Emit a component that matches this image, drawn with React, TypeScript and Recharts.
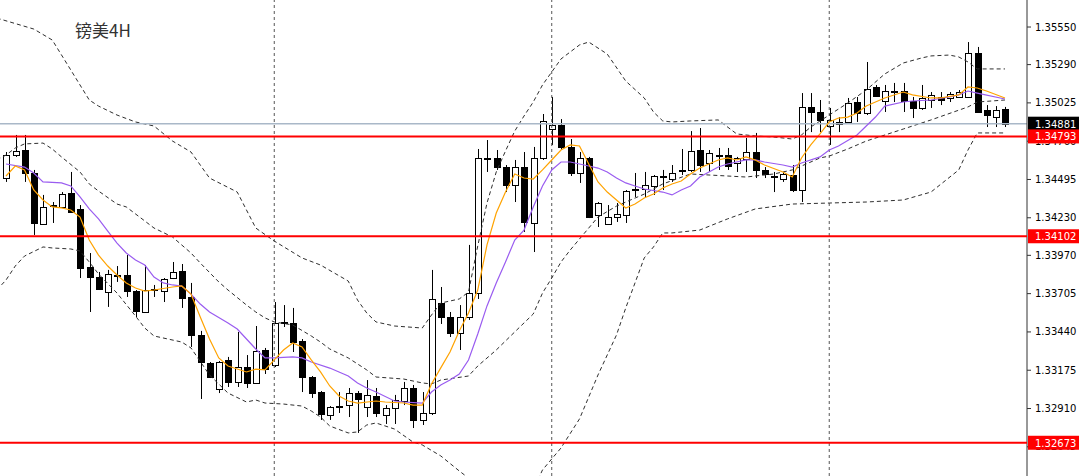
// GBPUSD 4H candles with Bollinger bands, two moving averages and marked price levels.
import React from "react";
import { ComposedChart, Bar, Line, XAxis, YAxis, ReferenceLine } from "recharts";

const OPEN = [
  1.34505, 1.34664, 1.34699, 1.3454, 1.34187, 1.34311, 1.34305, 1.34401, 1.34291, 1.33889,
  1.3382, 1.33716, 1.33834, 1.33834, 1.33723, 1.33578, 1.3373, 1.33723, 1.33813, 1.33862,
  1.33682, 1.33419, 1.33225, 1.33045, 1.33246, 1.33094, 1.33197, 1.33087, 1.33315, 1.33211,
  1.33509, 1.33502, 1.33377, 1.33128, 1.33024, 1.32865, 1.32927, 1.32934, 1.33017, 1.32921,
  1.32997, 1.32865, 1.32914, 1.32962, 1.33052, 1.32831, 1.32879, 1.3364, 1.33543, 1.33433,
  1.33543, 1.33709, 1.34644, 1.34644, 1.34581, 1.34457, 1.34581, 1.34194, 1.34644, 1.34844,
  1.34872, 1.3472, 1.3454, 1.34644, 1.34249, 1.34187, 1.34235, 1.34249, 1.34422, 1.34429,
  1.3445, 1.34512, 1.34498, 1.34554, 1.34561, 1.34699, 1.34609, 1.34657, 1.34664, 1.34609,
  1.34637, 1.34685, 1.34561, 1.34519, 1.34498, 1.34526, 1.34422, 1.34997, 1.34962, 1.34865,
  1.34893, 1.34893, 1.35031, 1.34955, 1.35135, 1.35038, 1.35107, 1.35107, 1.35038, 1.3499,
  1.35045, 1.35066, 1.35059, 1.35066, 1.35066, 1.3537, 1.34976, 1.34927, 1.34983,
];
const HIGH = [
  1.34685, 1.34803, 1.34803, 1.34561, 1.34388, 1.34339, 1.34408, 1.34547, 1.34318, 1.33986,
  1.33855, 1.33869, 1.33896, 1.33972, 1.3373, 1.33903, 1.33765, 1.33813, 1.33924, 1.3391,
  1.33779, 1.33447, 1.33232, 1.33239, 1.33267, 1.3344, 1.3328, 1.33481, 1.33329, 1.33647,
  1.33626, 1.33606, 1.33391, 1.33135, 1.33031, 1.32927, 1.33024, 1.33052, 1.33031, 1.33107,
  1.33052, 1.32934, 1.33004, 1.33094, 1.33073, 1.33024, 1.33869, 1.33751, 1.33578, 1.33626,
  1.34042, 1.34706, 1.34768, 1.34699, 1.34595, 1.3463, 1.34685, 1.3472, 1.34948, 1.35066,
  1.34913, 1.34775, 1.34685, 1.34651, 1.34339, 1.34318, 1.34332, 1.34422, 1.3454, 1.34547,
  1.34526, 1.34561, 1.34595, 1.34706, 1.3483, 1.34851, 1.34699, 1.34713, 1.34713, 1.34651,
  1.34782, 1.34817, 1.34581, 1.34547, 1.34547, 1.34595, 1.35093, 1.35093, 1.35045, 1.3499,
  1.34927, 1.35059, 1.35066, 1.35308, 1.35149, 1.35149, 1.35163, 1.35163, 1.35066, 1.35149,
  1.351, 1.351, 1.351, 1.35114, 1.35446, 1.35412, 1.3501, 1.35003, 1.34997,
];
const LOW = [
  1.34478, 1.34651, 1.34478, 1.34111, 1.3418, 1.34194, 1.34298, 1.34263, 1.33813, 1.33578,
  1.3373, 1.33613, 1.33786, 1.33682, 1.33543, 1.33571, 1.33682, 1.33647, 1.33806, 1.33606,
  1.33336, 1.32976, 1.33121, 1.33017, 1.33059, 1.33059, 1.33052, 1.3308, 1.33149, 1.33197,
  1.33474, 1.33301, 1.33024, 1.32983, 1.32831, 1.32831, 1.32879, 1.32851, 1.32741, 1.32851,
  1.32851, 1.32803, 1.32803, 1.32934, 1.32775, 1.32796, 1.32865, 1.33495, 1.33405, 1.33315,
  1.33523, 1.33668, 1.34547, 1.34561, 1.34408, 1.34339, 1.34132, 1.33993, 1.3463, 1.34734,
  1.34699, 1.34519, 1.34471, 1.34228, 1.34166, 1.3418, 1.34201, 1.34194, 1.34374, 1.34374,
  1.34388, 1.34422, 1.34478, 1.34526, 1.34547, 1.34547, 1.34547, 1.34561, 1.34561, 1.34547,
  1.34547, 1.34505, 1.34505, 1.34408, 1.34478, 1.34408, 1.34339, 1.34823, 1.34823, 1.34734,
  1.34823, 1.34886, 1.34893, 1.34941, 1.35066, 1.34962, 1.35031, 1.34962, 1.3492, 1.34976,
  1.3499, 1.3501, 1.35031, 1.35059, 1.35059, 1.34955, 1.34858, 1.34858, 1.34858,
];
const CLOSE = [
  1.34664, 1.34692, 1.3454, 1.34194, 1.34305, 1.34318, 1.34394, 1.3427, 1.33882, 1.3382,
  1.33737, 1.33841, 1.33827, 1.33723, 1.33585, 1.3373, 1.33737, 1.33806, 1.33855, 1.33675,
  1.33419, 1.33232, 1.33128, 1.33232, 1.33094, 1.33197, 1.33087, 1.33308, 1.33183, 1.33502,
  1.33502, 1.3337, 1.33128, 1.33017, 1.32872, 1.32921, 1.32921, 1.33017, 1.32976, 1.33004,
  1.32879, 1.32914, 1.32969, 1.33052, 1.32831, 1.32879, 1.33668, 1.33543, 1.33433, 1.33543,
  1.33709, 1.34644, 1.34637, 1.34581, 1.34457, 1.34581, 1.34201, 1.34644, 1.349, 1.34872,
  1.3472, 1.3454, 1.34644, 1.34235, 1.34332, 1.34235, 1.34256, 1.34415, 1.34429, 1.34457,
  1.34519, 1.34519, 1.3454, 1.34561, 1.34692, 1.34595, 1.34678, 1.34664, 1.34588, 1.34644,
  1.34685, 1.34561, 1.34533, 1.34512, 1.34533, 1.34422, 1.34997, 1.34962, 1.34907, 1.34907,
  1.34879, 1.35024, 1.34955, 1.35121, 1.35073, 1.35107, 1.351, 1.35038, 1.3499, 1.35059,
  1.3508, 1.35045, 1.35086, 1.351, 1.3537, 1.34962, 1.34941, 1.34976, 1.34881,
];

// [bar index, price]
const BB_UPPER = [
  [-1, 1.35612], [3, 1.35536], [5, 1.3546], [7, 1.35253], [9, 1.35045], [10, 1.35003], [12, 1.34941],
  [14, 1.34893], [16, 1.34865], [18, 1.34761], [20, 1.34685], [22, 1.34505], [25, 1.34408], [27, 1.34159],
  [29, 1.34069], [32, 1.33952], [34, 1.33903], [37, 1.33792], [38, 1.33661], [39, 1.33571], [40, 1.33509],
  [42, 1.33481], [45, 1.33467], [46, 1.33557], [47, 1.3364], [49, 1.33668], [50, 1.33716], [51, 1.34035],
  [52, 1.34332], [53, 1.34547], [54, 1.34692], [55, 1.3483], [56, 1.34934], [57, 1.35031], [58, 1.35149],
  [60, 1.35329], [62, 1.35426], [63, 1.35446], [65, 1.35363], [67, 1.35176], [69, 1.35059], [70, 1.34962],
  [71, 1.349], [72, 1.34893], [74, 1.349], [77, 1.34907], [79, 1.3481], [81, 1.34796], [83, 1.34789],
  [85, 1.34775], [86, 1.34803], [87, 1.34858], [89, 1.34941], [91, 1.35024], [93, 1.35114], [95, 1.35225],
  [97, 1.35301], [99, 1.35336], [100, 1.3535], [102, 1.35356], [103, 1.35343], [104, 1.35308], [105, 1.3526],
  [108, 1.3526],
];
const BB_MID = [
  [-1, 1.3463], [0, 1.34664], [1, 1.34713], [2, 1.34741], [4, 1.34747], [5, 1.34706], [6, 1.34651],
  [8, 1.34547], [9, 1.34464], [10, 1.34415], [12, 1.34325], [13, 1.34305], [15, 1.34208], [16, 1.34159],
  [18, 1.34097], [20, 1.33986], [21, 1.33917], [23, 1.33786], [24, 1.3373], [26, 1.33626], [27, 1.33578],
  [28, 1.33537], [29, 1.33509], [31, 1.33488], [33, 1.33412], [34, 1.3337], [35, 1.33322], [37, 1.3326],
  [39, 1.33177], [40, 1.33128], [43, 1.33114], [45, 1.33087], [46, 1.3308], [47, 1.33107], [50, 1.33135],
  [51, 1.33204], [53, 1.33315], [55, 1.3344], [57, 1.33564], [58, 1.33709], [59, 1.33813], [60, 1.33924],
  [61, 1.34007], [63, 1.34159], [64, 1.34235], [66, 1.34311], [69, 1.34394], [71, 1.34464], [74, 1.34533],
  [78, 1.34519], [80, 1.34512], [83, 1.34533], [85, 1.34561], [86, 1.34588], [88, 1.34644], [89, 1.34657],
  [91, 1.34706], [93, 1.34761], [97, 1.34844], [100, 1.34907], [104, 1.34997], [105, 1.35031], [108, 1.35045],
];
const BB_LOWER = [
  [-1, 1.3373], [0, 1.33799], [1, 1.33896], [2, 1.33965], [4, 1.34028], [5, 1.34021], [7, 1.34014],
  [8, 1.34], [9, 1.33924], [10, 1.33841], [12, 1.33709], [14, 1.3355], [15, 1.33467], [16, 1.33412],
  [19, 1.3337], [20, 1.33329], [22, 1.33142], [24, 1.33017], [26, 1.32955], [27, 1.32969], [28, 1.32948],
  [30, 1.32941], [32, 1.32927], [33, 1.32893], [34, 1.32851], [35, 1.32789], [37, 1.32741], [38, 1.32748],
  [39, 1.32796], [40, 1.3281], [42, 1.32768], [44, 1.32678], [45, 1.32658], [47, 1.32582], [49, 1.32478],
  [50, 1.32429], [52, 1.32346], [55, 1.32298], [57, 1.32346], [58, 1.32485], [60, 1.32637], [62, 1.32838],
  [64, 1.33142], [66, 1.33419], [67, 1.33606], [68, 1.33779], [69, 1.33952], [70, 1.34028], [71, 1.34125],
  [72, 1.34125], [75, 1.34145], [78, 1.34222], [81, 1.34291], [85, 1.34325], [89, 1.34332], [93, 1.34339],
  [97, 1.34353], [100, 1.34408], [103, 1.34561], [104, 1.34699], [105, 1.34817], [108, 1.34817],
];
const MA_FAST = [
  [0, 1.34519], [1, 1.34588], [2, 1.34561], [3, 1.34422], [4, 1.34353], [5, 1.34305], [6, 1.34298],
  [7, 1.34284], [8, 1.34235], [9, 1.34076], [10, 1.33972], [11, 1.33896], [12, 1.33834], [13, 1.33779],
  [14, 1.33744], [15, 1.33723], [16, 1.3373], [18, 1.33751], [19, 1.33758], [20, 1.33702], [21, 1.33543],
  [22, 1.33391], [23, 1.3326], [24, 1.33204], [26, 1.33163], [27, 1.33183], [28, 1.33177], [29, 1.33246],
  [30, 1.33315], [31, 1.33363], [32, 1.33336], [33, 1.33246], [34, 1.33163], [35, 1.33066], [36, 1.32997],
  [37, 1.32962], [38, 1.32948], [40, 1.32962], [41, 1.32955], [43, 1.32948], [44, 1.32934], [45, 1.32934],
  [46, 1.3308], [47, 1.33191], [48, 1.33301], [49, 1.33447], [50, 1.33571], [51, 1.3373], [52, 1.34042],
  [53, 1.34263], [54, 1.34408], [55, 1.34533], [56, 1.34505], [57, 1.34498], [58, 1.34561], [59, 1.3463],
  [60, 1.34699], [61, 1.34734], [62, 1.34727], [63, 1.34602], [64, 1.34478], [65, 1.34408], [66, 1.34353],
  [67, 1.34298], [68, 1.34325], [69, 1.34367], [70, 1.34394], [71, 1.34436], [72, 1.34464], [73, 1.34484],
  [74, 1.34533], [75, 1.34574], [77, 1.3463], [78, 1.34644], [79, 1.3463], [80, 1.34651], [81, 1.3463],
  [82, 1.34595], [84, 1.34547], [85, 1.34512], [86, 1.34644], [87, 1.34734], [88, 1.3481], [89, 1.34893],
  [90, 1.3492], [91, 1.34927], [92, 1.34955], [93, 1.35003], [95, 1.35059], [97, 1.351], [98, 1.3508],
  [100, 1.35059], [101, 1.35059], [103, 1.3508], [104, 1.35135], [105, 1.35128], [106, 1.35107], [108, 1.35059],
];
const MA_SLOW = [
  [0, 1.34602], [2, 1.34581], [3, 1.3454], [4, 1.34478], [6, 1.34471], [7, 1.3445], [8, 1.34374],
  [9, 1.34291], [10, 1.34222], [11, 1.34138], [12, 1.34055], [13, 1.33986], [14, 1.33938], [15, 1.33903],
  [16, 1.3382], [17, 1.33779], [18, 1.33765], [19, 1.33758], [20, 1.33702], [21, 1.33633], [22, 1.33578],
  [24, 1.33502], [25, 1.3346], [27, 1.33322], [28, 1.3326], [29, 1.3326], [31, 1.33267], [32, 1.3326],
  [33, 1.33232], [35, 1.3319], [36, 1.33163], [37, 1.33135], [38, 1.33087], [39, 1.33052], [40, 1.33024],
  [42, 1.32962], [43, 1.32955], [45, 1.32948], [46, 1.33024], [47, 1.33073], [48, 1.33107], [49, 1.33149],
  [50, 1.33246], [51, 1.33426], [52, 1.3362], [53, 1.33779], [54, 1.33924], [55, 1.34076], [56, 1.34145],
  [57, 1.34305], [58, 1.3445], [59, 1.34561], [60, 1.34616], [61, 1.34616], [62, 1.34602], [63, 1.34588],
  [64, 1.34574], [65, 1.34547], [66, 1.34505], [67, 1.34471], [68, 1.3445], [69, 1.34429], [71, 1.34408],
  [72, 1.34388], [73, 1.34422], [74, 1.3445], [75, 1.34512], [77, 1.34581], [78, 1.34602], [80, 1.3463],
  [81, 1.3463], [82, 1.34616], [84, 1.34595], [85, 1.34581], [86, 1.34609], [88, 1.34651], [89, 1.34699],
  [90, 1.34727], [92, 1.34803], [93, 1.34865], [94, 1.34927], [95, 1.35003], [97, 1.35031], [98, 1.35038],
  [100, 1.35045], [102, 1.35066], [103, 1.3508], [104, 1.35107], [105, 1.35093], [108, 1.35052],
];

const LEVELS = [1.34793, 1.34102, 1.32673];
const LAST_PRICE = 1.34881;
const WEEK_STARTS = [29, 59, 89];
const PRICE_TICKS = [
  1.3555, 1.3529, 1.35025, 1.3476, 1.34495, 1.3423, 1.3397, 1.33705, 1.3344, 1.33175, 1.3291, 1.32645,
];

const W = 1080;
const H = 476;
const FONT = "DejaVu Sans, Verdana, sans-serif";
const X_DOMAIN = [-0.65, 110.38];
const Y_DOMAIN = [1.32443, 1.35737];
const MARGIN = { top: 0, right: 0, bottom: 0, left: 0 };

const candles = OPEN.map((o, i) => ({
  i,
  o,
  h: HIGH[i],
  l: LOW[i],
  c: CLOSE[i],
  range: [LOW[i], HIGH[i]],
}));
const pts = (pairs: number[][]) => pairs.map(([i, v]) => ({ i, v }));

function Candle(props: any) {
  const { x, y, width, height, payload } = props;
  if (payload == null || height == null) return null;
  const { o, h, l, c } = payload;
  const span = h - l || 1e-9;
  const toY = (v: number) => y + ((h - v) / span) * height;
  const cx = Math.round(x + width / 2) + 0.5;
  const top = Math.round(toY(Math.max(o, c))) + 0.5;
  const bot = Math.round(toY(Math.min(o, c))) + 0.5;
  const up = c >= o;
  return (
    <g>
      <line x1={cx} x2={cx} y1={y} y2={y + height} stroke="#000" strokeWidth={1} />
      <rect
        x={cx - 3}
        y={top}
        width={6}
        height={Math.max(bot - top, 0.5)}
        fill={up ? "#fff" : "#000"}
        stroke="#000"
        strokeWidth={1}
      />
    </g>
  );
}

function PriceTag({ viewBox, text, bg }: any) {
  if (!viewBox) return null;
  const x = viewBox.x + viewBox.width + 1;
  const y = viewBox.y;
  return (
    <g>
      <rect x={x} y={y - 7} width={51} height={14} fill={bg} />
      <text x={x + 7} y={y + 4} fill="#fff" fontSize={10} fontFamily={FONT}>
        {text}
      </text>
    </g>
  );
}

const band = (key: string, pairs: number[][]) => (
  <Line
    key={key}
    data={pts(pairs)}
    dataKey="v"
    type="linear"
    stroke="#2e2e2e"
    strokeWidth={1}
    strokeDasharray="4 3"
    dot={false}
    activeDot={false}
    isAnimationActive={false}
  />
);

const ma = (key: string, pairs: number[][], color: string) => (
  <Line
    key={key}
    data={pts(pairs)}
    dataKey="v"
    type="linear"
    stroke={color}
    strokeWidth={1.2}
    dot={false}
    activeDot={false}
    isAnimationActive={false}
  />
);

export default function App() {
  return (
    <div style={{ position: "absolute", left: 0, top: 0, width: W, height: H, background: "#fff" }}>
      {/* base layer: price axis, bands, candles, averages */}
      <ComposedChart width={W} height={H} data={candles} margin={MARGIN}>
        <XAxis dataKey="i" type="number" domain={X_DOMAIN} allowDataOverflow hide />
        <YAxis
          orientation="right"
          width={53}
          domain={Y_DOMAIN}
          allowDataOverflow
          ticks={PRICE_TICKS}
          interval={0}
          tickFormatter={(v: number) => v.toFixed(5)}
          tick={{ fontSize: 10, fill: "#000", fontFamily: FONT }}
          tickSize={4}
          tickMargin={4}
          axisLine={{ stroke: "#333" }}
          tickLine={{ stroke: "#333" }}
        />
        {WEEK_STARTS.map((x) => (
          <ReferenceLine key={"w" + x} x={x} stroke="#555" strokeDasharray="3 3" />
        ))}
        {band("bbU", BB_UPPER)}
        {band("bbM", BB_MID)}
        {band("bbL", BB_LOWER)}
        <ReferenceLine y={LAST_PRICE} stroke="#a9b8c8" strokeWidth={1.5} />
        <Bar dataKey="range" barSize={6} shape={<Candle />} isAnimationActive={false} />
        {ma("maSlow", MA_SLOW, "#9a5cf0")}
        {ma("maFast", MA_FAST, "#ffa300")}
      </ComposedChart>
      {/* top layer: level lines and price tags over the axis labels */}
      <div style={{ position: "absolute", left: 0, top: 0 }}>
        <ComposedChart width={W} height={H} data={[]} margin={MARGIN}>
          <XAxis dataKey="i" type="number" domain={X_DOMAIN} allowDataOverflow hide />
          <YAxis
            orientation="right"
            width={53}
            domain={Y_DOMAIN}
            allowDataOverflow
            tick={false}
            axisLine={false}
            tickLine={false}
          />
          <ReferenceLine
            y={LAST_PRICE}
            stroke="none"
            label={<PriceTag text={LAST_PRICE.toFixed(5)} bg="#000" />}
          />
          {LEVELS.map((lv) => (
            <ReferenceLine
              key={"lv" + lv}
              y={lv}
              stroke="#ff0000"
              strokeWidth={2}
              label={<PriceTag text={lv.toFixed(5)} bg="#ff0000" />}
            />
          ))}
        </ComposedChart>
      </div>
      <div
        style={{
          position: "absolute",
          left: 75,
          top: 20,
          fontFamily: "'Noto Sans CJK SC', sans-serif",
          fontSize: 17,
          lineHeight: "20px",
          color: "#333",
        }}
      >
        镑美4H
      </div>
    </div>
  );
}
